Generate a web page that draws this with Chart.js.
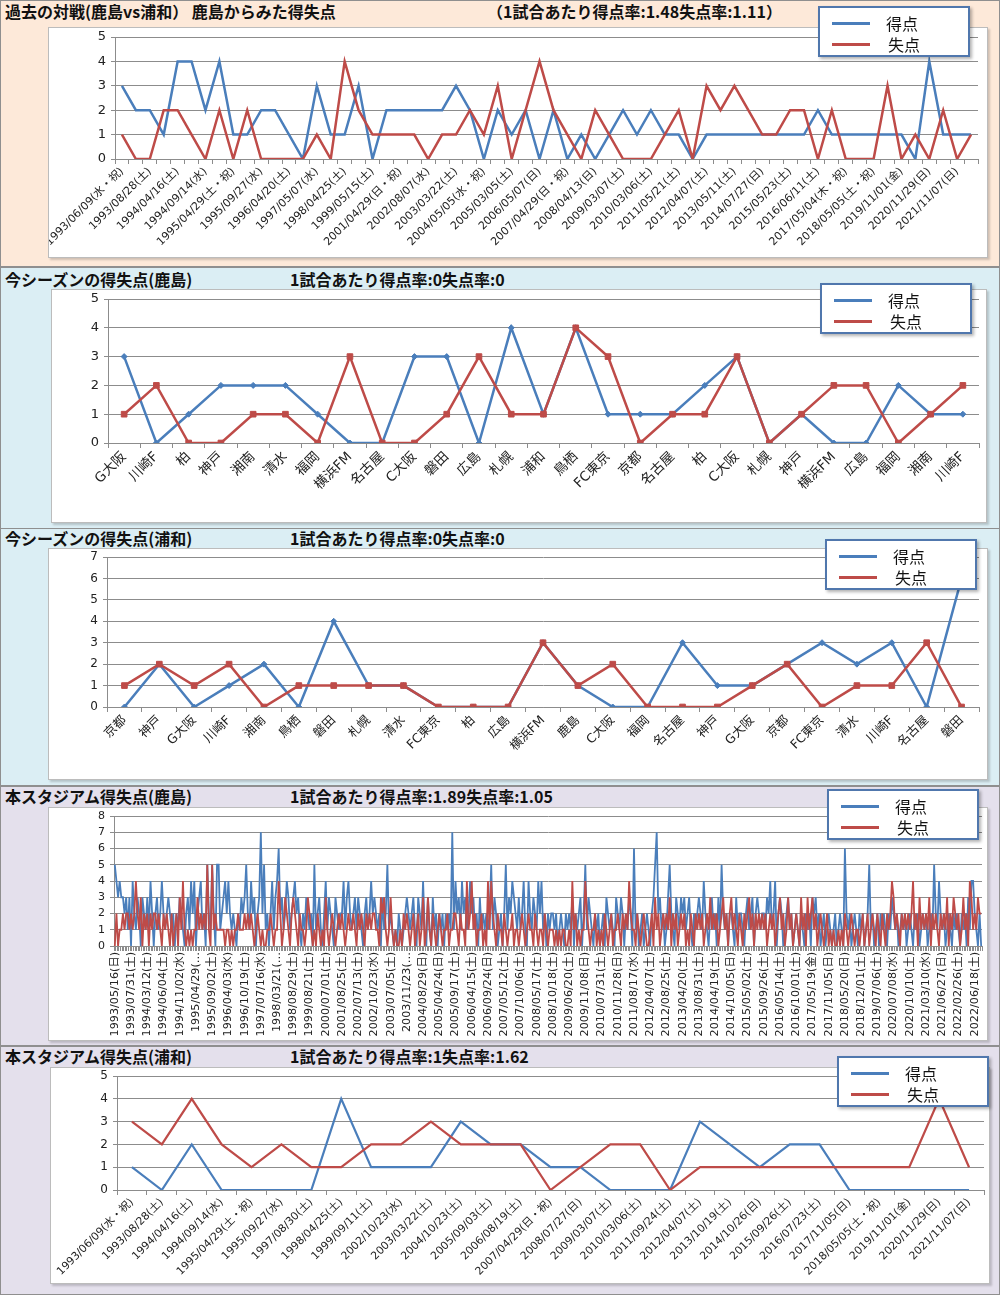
<!DOCTYPE html>
<html>
<head>
<meta charset="utf-8">
<script src="https://cdn.jsdelivr.net/npm/chart.js@4.4.0/dist/chart.umd.min.js"></script>
<style>
body{margin:0;width:1000px;height:1295px;position:relative;overflow:hidden;background:#fff;font-family:"Noto Sans CJK JP",sans-serif}
.panel{position:absolute;left:0;width:998px;border:1px solid #8f8f8f}
.title{position:absolute;font-weight:bold;font-size:16px;line-height:18px;white-space:nowrap;color:#111}
.box{position:absolute;background:#fff;border:1px solid #bcbcbc;box-shadow:2px 2px 2px rgba(0,0,0,.18)}
.cv{position:absolute}
.legend{position:absolute;width:148px;height:47px;background:#fff;border:2px solid #5077ad;box-shadow:2px 2px 3px rgba(0,0,0,.3)}
.legend i{position:absolute;left:12px;width:38px;height:3px}
.legend span{position:absolute;font-size:16px;line-height:18px;color:#111}
</style>
</head>
<body>
<div class="panel" style="top:0;height:265px;background:#fde9d9"></div>
<div class="panel" style="top:267px;height:260px;background:#dbeef4"></div>
<div class="panel" style="top:528px;height:256px;background:#dbeef4"></div>
<div class="panel" style="top:786px;height:258px;background:#e4e0ec"></div>
<div class="panel" style="top:1046px;height:247px;background:#e4e0ec"></div>

<div class="title" style="left:5px;top:2px">過去の対戦(鹿島vs浦和） 鹿島からみた得失点</div>
<div class="title" style="left:487px;top:2px">（1試合あたり得点率:1.48失点率:1.11）</div>
<div class="title" style="left:5px;top:270px">今シーズンの得失点(鹿島)</div>
<div class="title" style="left:290px;top:270px">1試合あたり得点率:0失点率:0</div>
<div class="title" style="left:5px;top:529px">今シーズンの得失点(浦和)</div>
<div class="title" style="left:290px;top:529px">1試合あたり得点率:0失点率:0</div>
<div class="title" style="left:5px;top:787px">本スタジアム得失点(鹿島)</div>
<div class="title" style="left:290px;top:787px">1試合あたり得点率:1.89失点率:1.05</div>
<div class="title" style="left:5px;top:1047px">本スタジアム得失点(浦和)</div>
<div class="title" style="left:290px;top:1047px">1試合あたり得点率:1失点率:1.62</div>

<div class="box" style="left:48px;top:27px;width:938px;height:229px"></div>
<canvas id="c1" class="cv" width="938" height="229" style="left:49px;top:28px"></canvas>
<div class="box" style="left:51px;top:289px;width:934px;height:232px"></div>
<canvas id="c2" class="cv" width="934" height="232" style="left:52px;top:290px"></canvas>
<div class="box" style="left:48px;top:548px;width:938px;height:230px"></div>
<canvas id="c3" class="cv" width="938" height="230" style="left:49px;top:549px"></canvas>
<div class="box" style="left:48px;top:807px;width:938px;height:232px"></div>
<canvas id="c4" class="cv" width="938" height="232" style="left:49px;top:808px"></canvas>
<div class="box" style="left:50px;top:1067px;width:938px;height:215px"></div>
<canvas id="c5" class="cv" width="938" height="215" style="left:51px;top:1068px"></canvas>

<div id="legends"></div>

<script>
// 過去の対戦（鹿島からみた得失点）
const pastTicks = ['1993/06/09(水・祝)', '1993/08/28(土)', '1994/04/16(土)', '1994/09/14(水)', '1995/04/29(土・祝)',
  '1995/09/27(水)', '1996/04/20(土)', '1997/05/07(水)', '1998/04/25(土)', '1999/05/15(土)', '2001/04/29(日・祝)',
  '2002/08/07(水)', '2003/03/22(土)', '2004/05/05(水・祝)', '2005/03/05(土)', '2006/05/07(日)', '2007/04/29(日・祝)',
  '2008/04/13(日)', '2009/03/07(土)', '2010/03/06(土)', '2011/05/21(土)', '2012/04/07(土)', '2013/05/11(土)',
  '2014/07/27(日)', '2015/05/23(土)', '2016/06/11(土)', '2017/05/04(木・祝)', '2018/05/05(土・祝)', '2019/11/01(金)',
  '2020/11/29(日)', '2021/11/07(日)'];
const pastScored = [3,2,2,1,4,4,2,4,1,1, 2,2,1,0,3,1,1,3,0,2, 2,2,2,2,3,2,0,2,1,2,
  0,2,0,1,0,1,2,1,2,1, 1,0,1,1,1,1,1,1,1,1, 2,1,1,1,1,1,1,0,4,1, 1,1];
const pastConceded = [1,0,0,2,2,1,0,2,0,2, 0,0,0,0,1,0,4,2,1,1, 1,1,0,1,1,2,1,3,0,2,
  4,2,1,0,2,1,0,0,0,1, 2,0,3,2,3,2,1,1,2,2, 0,2,0,0,0,3,0,1,0,2, 0,1];

// 今シーズン（鹿島）
const kashimaOpponents = ['G大阪', '川崎F', '柏', '神戸', '湘南', '清水', '福岡', '横浜FM', '名古屋', 'C大阪', '磐田', '広島',
  '札幌', '浦和', '鳥栖', 'FC東京', '京都', '名古屋', '柏', 'C大阪', '札幌', '神戸', '横浜FM', '広島', '福岡', '湘南', '川崎F'];
const kashimaScored = [3,0,1,2,2,2,1,0,0,3,3,0,4,1,4,1,1,1,2,3,0,1,0,0,2,1,1];
const kashimaConceded = [1,2,0,0,1,1,0,3,0,0,1,3,1,1,4,3,0,1,1,3,0,1,2,2,0,1,2];

// 今シーズン（浦和）
const urawaOpponents = ['京都', '神戸', 'G大阪', '川崎F', '湘南', '鳥栖', '磐田', '札幌', '清水', 'FC東京', '柏', '広島', '横浜FM',
  '鹿島', 'C大阪', '福岡', '名古屋', '神戸', 'G大阪', '京都', 'FC東京', '清水', '川崎F', '名古屋', '磐田'];
const urawaScored = [0,2,0,1,2,0,4,1,1,0,0,0,3,1,0,0,3,1,1,2,3,2,3,0,6];
const urawaConceded = [1,2,1,2,0,1,1,1,1,0,0,0,3,1,2,0,0,0,1,2,0,1,1,3,0];

// 本スタジアム（鹿島） 目盛りは10試合おき
const stadiumTicks = ['1993/05/16(日)', '1993/07/31(土)', '1994/03/12(土)', '1994/06/04(土)', '1994/11/02(水)', '1995/04/29(…',
  '1995/09/02(土)', '1996/04/03(水)', '1996/10/19(土)', '1997/07/16(水)', '1998/03/21(…', '1998/08/29(土)', '1999/08/21(土)',
  '2000/07/01(土)', '2001/08/25(土)', '2002/07/13(土)', '2002/10/23(水)', '2003/07/05(土)', '2003/11/23(…', '2004/08/29(日)',
  '2005/04/24(日)', '2005/09/17(土)', '2006/04/15(土)', '2006/09/24(日)', '2007/05/12(土)', '2007/10/06(土)', '2008/05/17(土)',
  '2008/10/18(土)', '2009/06/20(土)', '2009/11/08(日)', '2010/07/31(土)', '2010/11/28(日)', '2011/08/17(水)', '2012/04/07(土)',
  '2012/08/25(土)', '2013/04/20(土)', '2013/08/31(土)', '2014/04/19(土)', '2014/10/05(日)', '2015/05/02(土)', '2015/09/26(土)',
  '2016/05/14(土)', '2016/10/01(土)', '2017/05/19(金)', '2017/11/05(日)', '2018/05/20(日)', '2018/12/01(土)', '2019/07/06(土)',
  '2020/07/08(水)', '2020/10/10(土)', '2021/03/10(水)', '2021/06/27(日)', '2022/02/26(土)', '2022/06/18(土)'];
const stadiumScored = [
  5,4,3,4,3,3,2,3,1,3, 0,4,2,1,3,2,0,3,2,1, 3,1,4,2,0,2,3,1,2,4, 2,1,2,3,2,1,2,0,2,1,
  3,2,1,0,2,3,1,4,2,4, 0,2,3,4,1,2,0,5,2,1, 5,2,0,5,5,1,2,3,4,2, 4,2,1,2,1,0,2,1,3,2,
  3,5,2,1,4,2,3,0,2,3, 7,2,5,1,2,0,2,4,1,3, 4,6,2,3,1,2,4,3,1,2, 3,4,2,3,1,0,2,1,3,2,
  1,2,0,5,1,2,3,1,0,2, 4,1,3,2,1,0,3,2,1,2, 2,4,1,3,4,2,1,2,3,1, 3,2,1,0,2,3,1,2,4,2,
  3,2,1,2,0,3,1,2,5,1, 2,1,0,1,0,2,1,0,1,2, 3,2,1,2,3,1,0,3,2,1, 4,1,0,3,1,0,3,1,2,0,
  2,1,2,0,2,1,2,1,7,1, 4,2,3,1,4,2,3,1,2,4, 2,3,1,2,0,3,1,2,1,2, 1,2,5,1,3,2,0,1,2,0,
  2,5,1,3,2,4,3,2,1,3, 1,2,4,1,0,4,2,1,3,2, 1,4,2,4,1,2,0,2,1,2, 2,1,2,0,1,2,1,0,2,1,
  2,1,3,0,2,1,2,3,0,2, 5,1,3,2,1,0,2,1,2,0, 1,2,0,3,2,1,2,1,0,3, 2,1,3,2,0,2,1,3,2,0,
  6,1,2,0,1,2,0,1,2,1, 0,2,3,5,7,2,3,1,2,0, 1,3,5,2,1,0,3,2,1,3, 2,3,1,2,3,1,0,2,1,2,
  3,2,1,4,2,1,0,2,3,1, 2,0,3,1,5,2,1,2,0,2, 2,1,0,3,1,2,2,1,0,2, 3,1,2,3,0,2,3,2,1,2,
  2,1,3,2,4,1,2,4,0,2, 3,2,0,1,2,3,1,2,0,1, 2,1,0,2,1,0,2,1,2,0, 3,2,3,1,2,0,1,2,0,1,
  2,1,0,1,2,0,1,2,1,0, 6,2,1,2,0,1,2,1,0,2, 1,2,0,1,2,5,1,2,0,1, 2,0,2,1,2,1,0,2,1,3,
  2,1,2,0,1,2,1,2,0,1, 2,1,0,2,1,2,0,1,2,1, 2,0,1,2,1,5,2,1,4,2, 1,2,0,1,2,1,0,2,1,2,
  1,0,2,1,2,0,3,1,4,4, 2,1,0,2,0];
const stadiumConceded = [
  0,2,0,1,1,2,1,2,2,1, 2,1,2,4,2,1,3,0,2,1, 2,0,2,1,2,2,1,2,1,0, 2,1,2,1,0,2,0,1,2,0,
  3,1,4,1,0,1,0,1,0,1, 1,3,1,2,1,2,1,5,1,0, 5,1,2,1,1,1,1,1,0,1, 1,0,1,0,1,1,2,1,1,1,
  2,1,2,1,2,1,0,1,2,1, 0,1,0,0,1,1,2,1,0,1, 1,4,2,0,1,3,2,1,0,2, 3,2,1,0,2,1,1,0,1,3,
  2,1,0,1,0,2,1,0,1,0, 3,1,0,1,2,1,0,1,2,1, 2,1,0,1,2,1,1,2,1,0, 2,1,2,1,0,2,1,2,1,2,
  2,1,1,0,3,2,3,1,0,1, 3,1,0,1,0,0,1,0,2,1, 2,1,0,1,2,0,1,2,0,1, 3,0,1,3,1,0,2,1,0,1,
  2,1,0,1,1,2,0,1,1,2, 2,1,0,2,1,1,0,4,1,2, 4,1,2,0,1,1,2,0,1,0, 4,1,4,2,1,0,2,1,1,0,
  2,1,0,1,1,2,0,1,1,0, 1,2,1,0,1,2,1,1,0,2, 1,0,1,1,0,2,1,0,1,1, 1,0,1,0,1,0,1,1,0,0,
  1,0,4,1,2,0,1,0,1,1, 4,2,1,0,1,1,2,0,1,0, 1,0,2,1,0,1,2,0,1,1, 2,1,0,2,1,2,1,4,2,1,
  1,0,2,1,0,1,2,1,0,0, 1,2,0,3,1,2,0,1,2,1, 2,1,3,0,2,1,2,0,1,2, 1,2,0,1,0,2,1,0,2,1,
  2,1,2,0,1,2,1,3,1,2, 1,2,0,1,2,3,1,2,0,2, 3,1,2,1,0,2,1,0,2,1, 2,3,1,2,0,2,1,2,1,2,
  1,2,0,1,2,1,2,0,1,2, 3,1,2,0,1,3,1,2,0,1, 2,1,0,3,1,2,0,3,1,2, 3,1,2,0,1,2,1,0,1,2,
  0,1,0,1,0,0,1,0,1,0, 2,1,0,1,2,1,0,1,1,0, 1,2,0,1,2,0,1,2,1,0, 2,1,0,2,1,0,2,1,2,4,
  3,1,2,1,0,2,1,2,1,2, 1,2,4,1,2,0,3,1,2,1, 2,1,3,0,2,1,2,1,0,2, 1,2,1,3,0,2,1,3,2,1,
  2,0,1,3,1,2,0,4,3,1, 2,1,3,2,2];

// 本スタジアム（浦和）
const urawaVisitDates = ['1993/06/09(水・祝)', '1993/08/28(土)', '1994/04/16(土)', '1994/09/14(水)', '1995/04/29(土・祝)',
  '1995/09/27(水)', '1997/08/30(土)', '1998/04/25(土)', '1999/09/11(土)', '2002/10/23(水)', '2003/03/22(土)', '2004/10/23(土)',
  '2005/09/03(土)', '2006/08/19(土)', '2007/04/29(日・祝)', '2008/07/27(日)', '2009/03/07(土)', '2010/03/06(土)',
  '2011/09/24(土)', '2012/04/07(土)', '2013/10/19(土)', '2014/10/26(日)', '2015/09/26(土)', '2016/07/23(土)',
  '2017/11/05(日)', '2018/05/05(土・祝)', '2019/11/01(金)', '2020/11/29(日)', '2021/11/07(日)'];
const urawaVisitScored = [1,0,2,0,0,0,0,4,1,1,1,3,2,2,1,1,0,0,0,3,2,1,2,2,0,0,0,0,0];
const urawaVisitConceded = [3,2,4,2,1,2,1,1,2,2,3,2,2,2,0,1,2,2,0,1,1,1,1,1,1,1,1,4,1];

const BLUE = '#4a7ebb';
const RED = '#be4b48';
const GRID = '#8c8c8c';
const AXIS = '#8c8c8c';
Chart.defaults.font.family = '"DejaVu Sans", "Noto Sans CJK JP", sans-serif';
Chart.defaults.color = '#222';

// 目盛りラベルを every 番目ごとに置いたカテゴリを作る
function spreadTicks(ticks, n, every) {
  const out = [];
  for (let i = 0; i < n; i++) out.push(i % every === 0 ? (ticks[i / every] || '') : '');
  return out;
}

function drawChart(id, labels, scored, conceded, o) {
  return new Chart(document.getElementById(id), {
    type: 'line',
    data: {
      labels: labels,
      datasets: [
        { label: '得点', data: scored, order: 1, borderColor: BLUE, backgroundColor: BLUE, borderWidth: o.lw,
          pointStyle: 'rectRot', pointRadius: o.marks ? 3 : 0, pointBorderWidth: 1, tension: 0 },
        { label: '失点', data: conceded, order: 0, borderColor: RED, backgroundColor: RED, borderWidth: o.lw,
          pointStyle: 'rect', pointRadius: o.marks ? 4 : 0, pointBorderWidth: 1, tension: 0 }
      ]
    },
    options: {
      responsive: false,
      animation: false,
      events: [],
      layout: { padding: { top: o.top, right: o.right, left: 0, bottom: 0 } },
      plugins: { legend: { display: false }, tooltip: { enabled: false } },
      scales: {
        x: {
          offset: true,
          grid: { offset: true, drawOnChartArea: false, tickLength: 5, color: AXIS },
          border: { color: AXIS },
          ticks: { autoSkip: false, minRotation: o.rot, maxRotation: o.rot, padding: 1, font: { size: o.xfs } },
          afterFit: s => { s.height = o.xh; s.paddingLeft = 0; s.paddingRight = 0; }
        },
        y: {
          min: 0, max: o.ymax,
          grid: { color: GRID, tickLength: 4 },
          border: { color: AXIS },
          ticks: { stepSize: 1, padding: 5, font: { size: o.yfs } },
          afterFit: s => { s.width = o.yw; s.paddingTop = 0; s.paddingBottom = 0; }
        }
      }
    }
  });
}

drawChart('c1', spreadTicks(pastTicks, pastScored.length, 2), pastScored, pastConceded,
  { lw: 2.5, marks: false, top: 9, right: 9, yw: 66, xh: 98, ymax: 5, rot: 45, xfs: 11, yfs: 13 });
drawChart('c2', kashimaOpponents, kashimaScored, kashimaConceded,
  { lw: 2.5, marks: true, top: 9, right: 7, yw: 56, xh: 79, ymax: 5, rot: 45, xfs: 13.5, yfs: 13 });
drawChart('c3', urawaOpponents, urawaScored, urawaConceded,
  { lw: 2.5, marks: true, top: 8, right: 8, yw: 58, xh: 72, ymax: 7, rot: 45, xfs: 12.5, yfs: 12 });
drawChart('c4', spreadTicks(stadiumTicks, stadiumScored.length, 10), stadiumScored, stadiumConceded,
  { lw: 1.8, marks: false, top: 8, right: 5, yw: 65, xh: 94, ymax: 8, rot: 90, xfs: 11.2, yfs: 11 });
drawChart('c5', urawaVisitDates, urawaVisitScored, urawaVisitConceded,
  { lw: 2.2, marks: false, top: 8, right: 5, yw: 66, xh: 93, ymax: 5, rot: 45, xfs: 10.8, yfs: 12 });

// 凡例
const legendBoxes = [[818, 6], [820, 283], [825, 539], [827, 789], [837, 1056]];
const holder = document.getElementById('legends');
legendBoxes.forEach(([x, y]) => {
  const d = document.createElement('div');
  d.className = 'legend';
  d.style.left = x + 'px';
  d.style.top = y + 'px';
  d.innerHTML = '<i style="top:14px;background:' + BLUE + '"></i><span style="left:66px;top:6px">得点</span>' +
    '<i style="top:35px;background:' + RED + '"></i><span style="left:68px;top:27px">失点</span>';
  holder.appendChild(d);
});
</script>
</body>
</html>
